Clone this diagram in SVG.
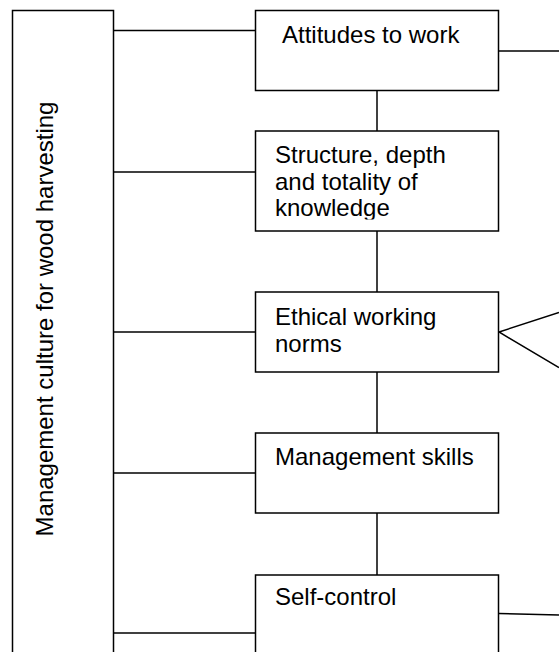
<svg xmlns="http://www.w3.org/2000/svg" width="559" height="652" viewBox="0 0 559 652">
<style>
.box{fill:#fff;stroke:#000;stroke-width:1.5}
.ln{fill:none;stroke:#000;stroke-width:1.5}
text{font-family:"Liberation Sans",Arial,sans-serif;font-size:24px;fill:#000}
</style>
<defs>
<clipPath id="clipS"><rect x="255" y="131" width="244" height="88.5"/></clipPath>
</defs>
<rect width="559" height="652" fill="#fff"/>
<g id="connectors">
<line class="ln" x1="113" y1="30.5" x2="255" y2="30.5"/>
<line class="ln" x1="113" y1="172" x2="255" y2="172"/>
<line class="ln" x1="113" y1="332" x2="255" y2="332"/>
<line class="ln" x1="113" y1="473" x2="255" y2="473"/>
<line class="ln" x1="113" y1="633" x2="255" y2="633"/>
<line class="ln" x1="377" y1="90" x2="377" y2="131"/>
<line class="ln" x1="377" y1="231" x2="377" y2="292"/>
<line class="ln" x1="377" y1="372" x2="377" y2="433"/>
<line class="ln" x1="377" y1="513" x2="377" y2="575"/>
<line class="ln" x1="499" y1="51" x2="559" y2="51"/>
<polyline class="ln" points="559,312.5 499,332 559,367.5"/>
<line class="ln" x1="499" y1="613.5" x2="559" y2="615"/>
</g>
<g id="main">
<rect class="box" x="12.5" y="10.5" width="101" height="660"/>
<text transform="translate(53,319) rotate(-90)" text-anchor="middle">Management culture for wood harvesting</text>
</g>
<g id="attitudes">
<rect class="box" x="255.5" y="10.5" width="243" height="80"/>
<text x="282" y="43">Attitudes to work</text>
</g>
<g id="structure">
<rect class="box" x="255.5" y="131" width="243" height="100"/>
<g clip-path="url(#clipS)">
<text x="275" y="163">Structure, depth</text>
<text x="275" y="189.5">and totality of</text>
<text x="275" y="216">knowledge</text>
</g>
</g>
<g id="ethical">
<rect class="box" x="255.5" y="292" width="243" height="80"/>
<text x="275" y="325">Ethical working</text>
<text x="275" y="352">norms</text>
</g>
<g id="management">
<rect class="box" x="255.5" y="433" width="243" height="80"/>
<text x="275" y="465">Management skills</text>
</g>
<g id="selfcontrol">
<rect class="box" x="255.5" y="575" width="243" height="100"/>
<text x="275" y="605">Self-control</text>
</g>
</svg>
